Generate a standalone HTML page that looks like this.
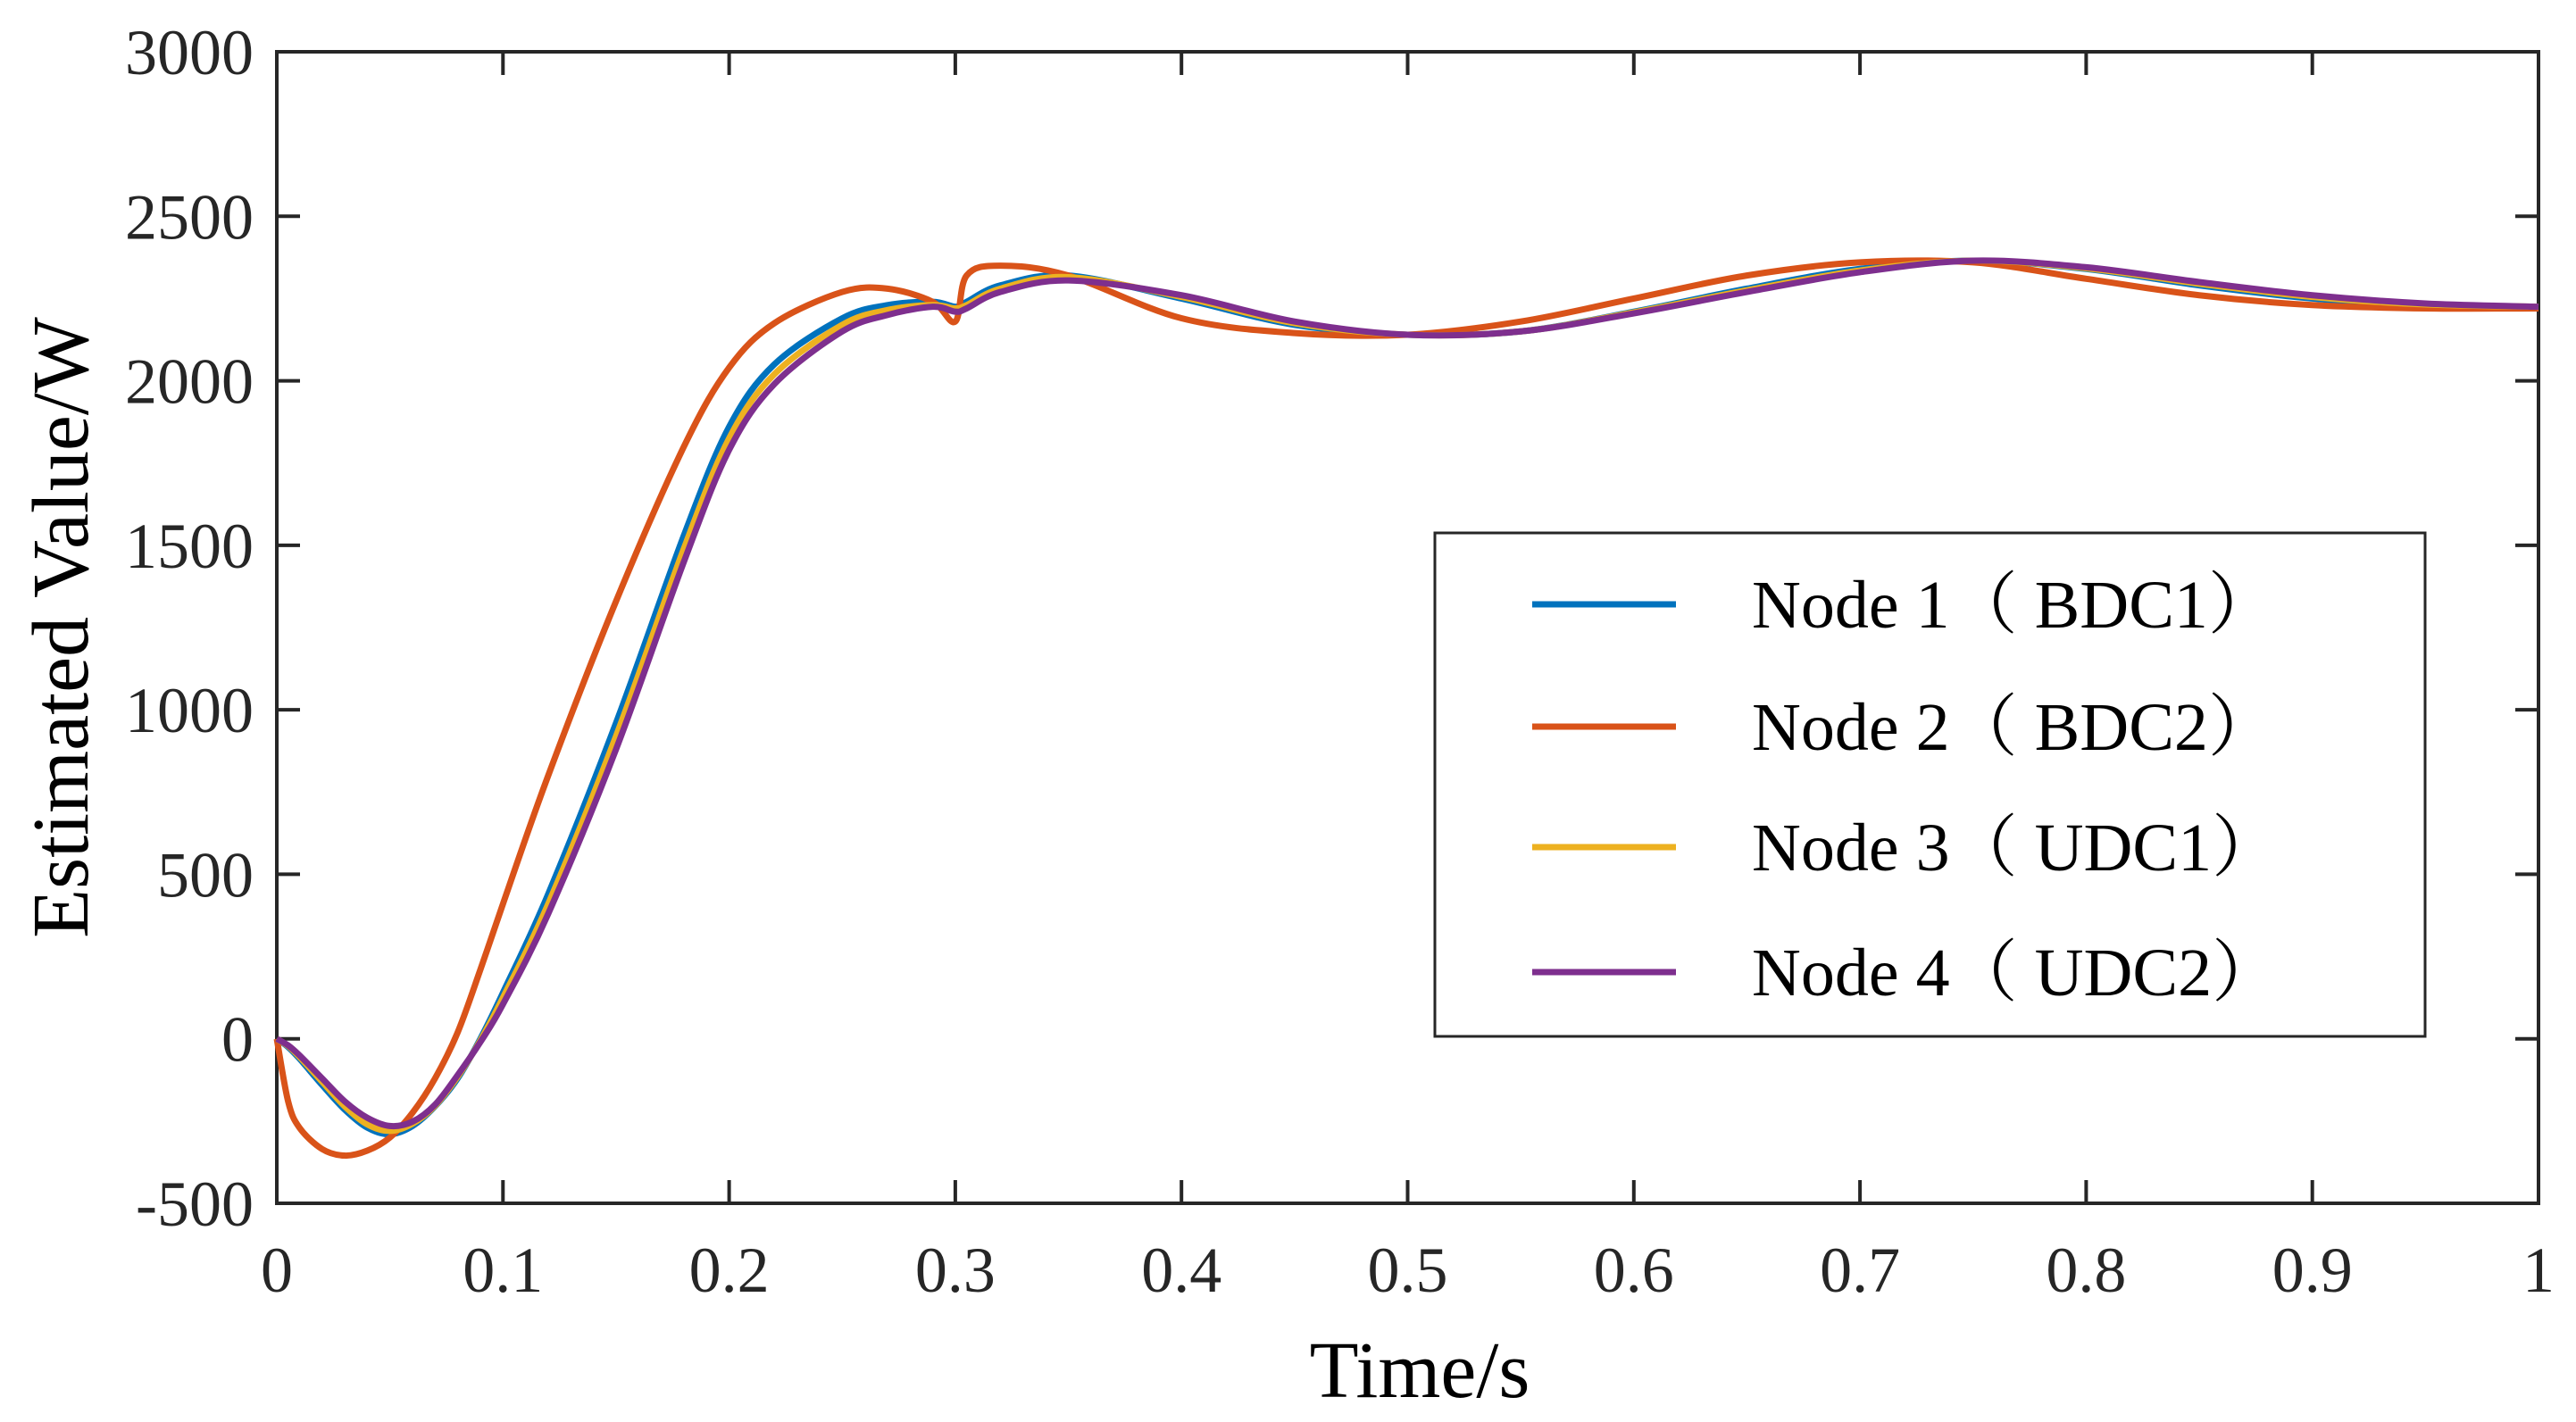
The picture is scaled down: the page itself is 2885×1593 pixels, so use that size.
<!DOCTYPE html>
<html><head><meta charset="utf-8"><style>
html,body{margin:0;padding:0;background:#fff;}
svg{display:block;font-family:"Liberation Serif","Times New Roman",serif;}
</style></head><body>
<svg id="chart" width="2885" height="1593" viewBox="0 0 2885 1593" xmlns="http://www.w3.org/2000/svg">
<rect width="2885" height="1593" fill="#fff"/>
<g id="axes"></g>
<g id="series"></g>
<g id="legend"></g>
</svg>
<script>
const times=[0,0.005,0.01,0.02,0.03,0.04,0.05,0.06,0.07,0.08,0.09,0.1,0.12,0.15,0.18,0.2,0.22,0.25,0.27,0.29,0.3,0.305,0.32,0.35,0.4,0.45,0.5,0.55,0.6,0.65,0.7,0.75,0.8,0.85,0.9,0.95,1];
const node1=[0,-25,-60,-140,-215,-270,-290,-265,-205,-120,0,140,440,960,1530,1860,2050,2190,2230,2240,2225,2240,2290,2320,2250,2170,2140,2150,2210,2280,2340,2365,2340,2290,2250,2230,2225];
const node2=[0,-190,-270,-335,-355,-340,-300,-225,-120,20,210,410,800,1330,1800,2040,2175,2270,2280,2240,2180,2320,2350,2320,2190,2145,2140,2180,2250,2320,2360,2360,2310,2260,2230,2220,2220];
const node3=[0,-22,-55,-130,-205,-260,-280,-258,-203,-115,-5,125,410,920,1490,1825,2020,2170,2215,2230,2220,2230,2280,2315,2255,2175,2140,2150,2208,2275,2335,2365,2342,2295,2255,2232,2225];
const node4=[0,-20,-50,-120,-190,-240,-265,-252,-200,-110,-10,105,380,880,1450,1790,1990,2150,2200,2225,2210,2220,2270,2305,2260,2180,2140,2150,2205,2270,2330,2365,2345,2300,2260,2235,2225];
const xTicks=[0,0.1,0.2,0.3,0.4,0.5,0.6,0.7,0.8,0.9,1];
const xTickLabels=["0","0.1","0.2","0.3","0.4","0.5","0.6","0.7","0.8","0.9","1"];
const yTicks=[-500,0,500,1000,1500,2000,2500,3000];
const yTickLabels=["-500","0","500","1000","1500","2000","2500","3000"];
const seriesNames=["Node 1\uFF08 BDC1\uFF09","Node 2\uFF08 BDC2\uFF09","Node 3\uFF08 UDC1\uFF09","Node 4\uFF08 UDC2\uFF09"];
const seriesColors=["#0072BD","#D95319","#EDB120","#7E2F8E"];

const L=310,R=2843,T=58,B=1348;
const xs=v=>L+(v-0)/(1-0)*(R-L);
const ys=v=>B-(v+500)/3500*(B-T);
const NS="http://www.w3.org/2000/svg";
const ax=document.getElementById('axes');
function mk(tag,attrs,parent){const e=document.createElementNS(NS,tag);for(const k in attrs)e.setAttribute(k,attrs[k]);parent.appendChild(e);return e;}
const col="#262626";
const frame=mk('rect',{x:L,y:T,width:R-L,height:B-T,fill:'none',stroke:col,'stroke-width':4},ax);


xTicks.forEach((t,i)=>{
  const x=xs(t);
  const a=mk('line',{x1:x,y1:B,x2:x,y2:B-26,stroke:col,'stroke-width':4},ax);
  
  
  const b=mk('line',{x1:x,y1:T,x2:x,y2:T+26,stroke:col,'stroke-width':4},ax);
  
  
  const tx=mk('text',{x:x,y:1447,'text-anchor':'middle','font-size':72,fill:col},ax);
  tx.textContent=xTickLabels[i];
  
  
});
yTicks.forEach((t,i)=>{
  const y=ys(t);
  const a=mk('line',{x1:L,y1:y,x2:L+26,y2:y,stroke:col,'stroke-width':4},ax);
  
  
  const b=mk('line',{x1:R,y1:y,x2:R-26,y2:y,stroke:col,'stroke-width':4},ax);
  
  
  const tx=mk('text',{x:284,y:y+25,'text-anchor':'end','font-size':72,fill:col},ax);
  tx.textContent=yTickLabels[i];
  
  
});
const xt=mk('text',{x:1590,y:1565,'text-anchor':'middle','font-size':90,fill:'#000'},ax);
xt.textContent="Time/s";


const yt=mk('text',{x:0,y:0,'text-anchor':'middle','font-size':90,fill:'#000',transform:'translate(98,703) rotate(-90)'},ax);
yt.textContent="Estimated Value/W";



function pathFor(vals){
  const p=times.map((t,i)=>[xs(t),ys(vals[i])]);
  let d=`M${p[0][0]},${p[0][1]}`;
  for(let i=0;i<p.length-1;i++){
    const p0=p[Math.max(0,i-1)],p1=p[i],p2=p[i+1],p3=p[Math.min(p.length-1,i+2)];
    const c1=[p1[0]+(p2[0]-p0[0])/6,p1[1]+(p2[1]-p0[1])/6];
    const c2=[p2[0]-(p3[0]-p1[0])/6,p2[1]-(p3[1]-p1[1])/6];
    d+=` C${c1[0]},${c1[1]} ${c2[0]},${c2[1]} ${p2[0]},${p2[1]}`;
  }
  return d;
}
const sg=document.getElementById('series');
const allSeries=[node1,node2,node3,node4];
const seriesKeys=["series-node1","series-node2","series-node3","series-node4"];
allSeries.forEach((vals,i)=>{
  const pth=mk('path',{d:pathFor(vals),fill:'none',stroke:seriesColors[i],'stroke-width':7,'stroke-linejoin':'round'},sg);
  
  
});
const lg=document.getElementById('legend');
const box=mk('rect',{x:1607,y:597,width:1109,height:564,fill:'#fff',stroke:col,'stroke-width':3},lg);


const ly=[677,814,949,1089];
seriesNames.forEach((n,i)=>{
  const ln=mk('line',{x1:1716,y1:ly[i],x2:1877,y2:ly[i],stroke:seriesColors[i],'stroke-width':7},lg);
  
  
  const tx=mk('text',{x:1962,y:ly[i]+26,'font-size':76,fill:'#000','font-family':'"Liberation Serif","Noto Serif CJK SC",serif'},lg);
  tx.textContent=n;
  
  
});
</script>
</body></html>
